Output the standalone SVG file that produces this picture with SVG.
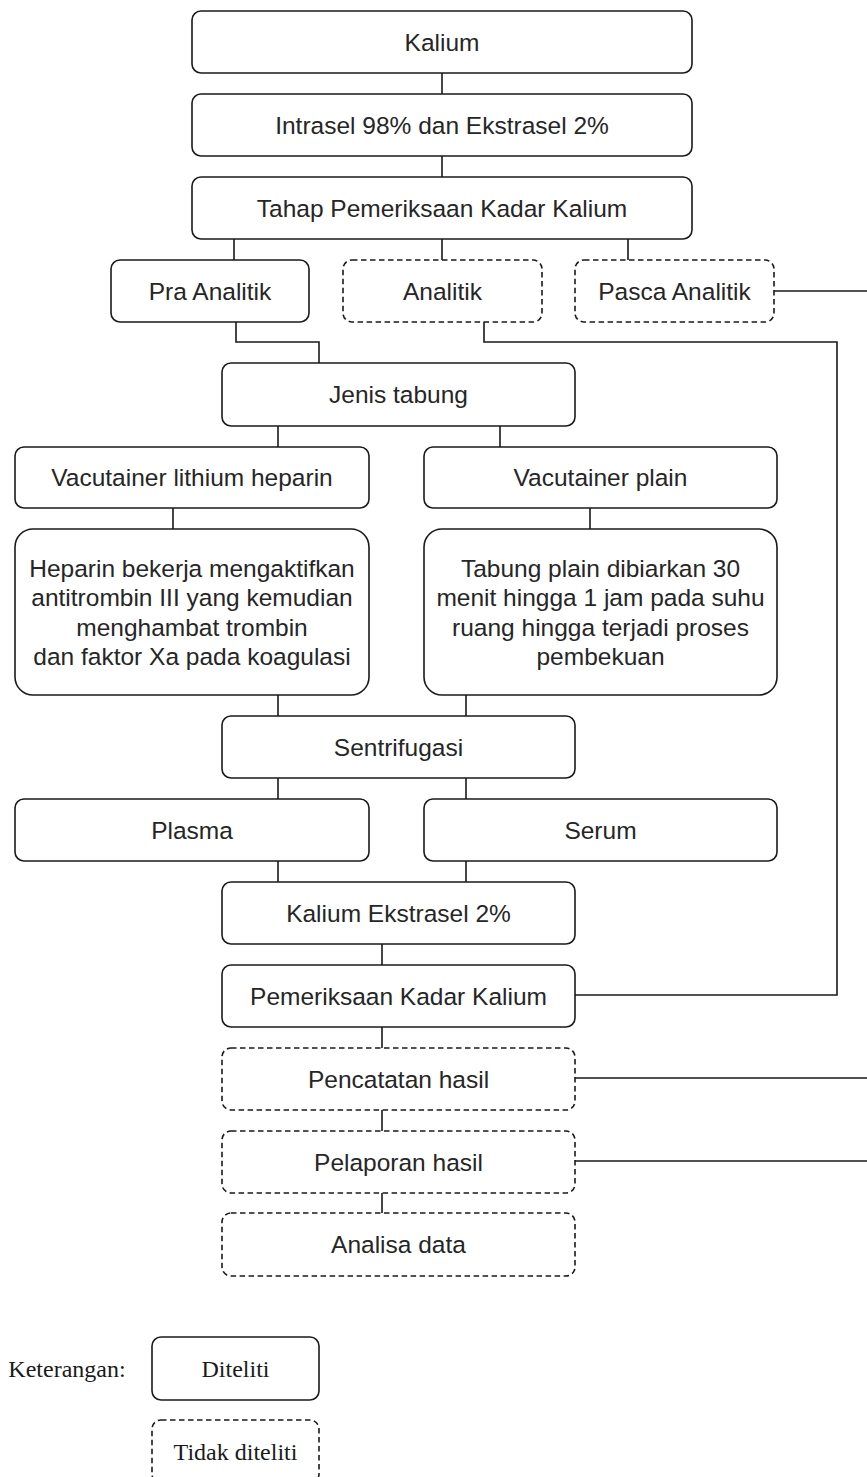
<svg xmlns="http://www.w3.org/2000/svg" width="867" height="1477" viewBox="0 0 867 1477">
<style>
.b{fill:#fff;stroke:#1a1a1a;stroke-width:1.6}
.d{fill:#fff;stroke:#1a1a1a;stroke-width:1.6;stroke-dasharray:5.5 3.5}
.t{font-family:"Liberation Sans",Arial,sans-serif;font-size:24.5px;fill:#262626;text-anchor:middle}
.s{font-family:"Liberation Serif","Times New Roman",serif;font-size:24px;fill:#1a1a1a;text-anchor:middle}
.c{fill:none;stroke:#1a1a1a;stroke-width:1.6}
</style>
<rect width="867" height="1477" fill="#fff"/>
<g id="connectors">
<path class="c" d="M442 73V94M442 156V177M234 239V260M442 239V260M628 239V260"/>
<path class="c" d="M236 322V342H319V363"/>
<path class="c" d="M484 322V342H837V995H575"/>
<path class="c" d="M774 291H867"/>
<path class="c" d="M278 426V447M500 426V447M173 508V529M590 508V529"/>
<path class="c" d="M278 695V716M466 695V716M278 778V799M466 778V799M278 861V882M466 861V882"/>
<path class="c" d="M382 944V965M382 1027V1048M382 1110V1131M382 1193V1213"/>
<path class="c" d="M575 1078H867M575 1161H867"/>
</g>
<g id="n-kalium"><rect class="b" x="192" y="11" width="500" height="62" rx="9"/><text class="t" x="442" y="50.5">Kalium</text></g>
<g id="n-intrasel"><rect class="b" x="192" y="94" width="500" height="62" rx="9"/><text class="t" x="442" y="133.5">Intrasel 98% dan Ekstrasel 2%</text></g>
<g id="n-tahap"><rect class="b" x="192" y="177" width="500" height="62" rx="9"/><text class="t" x="442" y="216.5">Tahap Pemeriksaan Kadar Kalium</text></g>
<g id="n-pra"><rect class="b" x="111" y="260" width="198" height="62" rx="9"/><text class="t" x="210" y="299.5">Pra Analitik</text></g>
<g id="n-analitik"><rect class="d" x="343" y="260" width="199" height="62" rx="9"/><text class="t" x="442.5" y="299.5">Analitik</text></g>
<g id="n-pasca"><rect class="d" x="575" y="260" width="199" height="62" rx="9"/><text class="t" x="674.5" y="299.5">Pasca Analitik</text></g>
<g id="n-jenis"><rect class="b" x="222" y="363" width="353" height="63" rx="9"/><text class="t" x="398.5" y="403">Jenis tabung</text></g>
<g id="n-vlh"><rect class="b" x="15" y="447" width="354" height="61" rx="9"/><text class="t" x="192" y="486">Vacutainer lithium heparin</text></g>
<g id="n-vp"><rect class="b" x="424" y="447" width="353" height="61" rx="9"/><text class="t" x="600.5" y="486">Vacutainer plain</text></g>
<g id="n-heparin"><rect class="b" x="15" y="529" width="354" height="166" rx="18"/>
<text class="t" x="192" y="576.5">Heparin bekerja mengaktifkan</text>
<text class="t" x="192" y="606">antitrombin III yang kemudian</text>
<text class="t" x="192" y="635.5">menghambat trombin</text>
<text class="t" x="192" y="665">dan faktor Xa pada koagulasi</text></g>
<g id="n-tabung"><rect class="b" x="424" y="529" width="353" height="166" rx="18"/>
<text class="t" x="600.5" y="576.5">Tabung plain dibiarkan 30</text>
<text class="t" x="600.5" y="606">menit hingga 1 jam pada suhu</text>
<text class="t" x="600.5" y="635.5">ruang hingga terjadi proses</text>
<text class="t" x="600.5" y="665">pembekuan</text></g>
<g id="n-sentri"><rect class="b" x="222" y="716" width="353" height="62" rx="9"/><text class="t" x="398.5" y="755.5">Sentrifugasi</text></g>
<g id="n-plasma"><rect class="b" x="15" y="799" width="354" height="62" rx="9"/><text class="t" x="192" y="838.5">Plasma</text></g>
<g id="n-serum"><rect class="b" x="424" y="799" width="353" height="62" rx="9"/><text class="t" x="600.5" y="838.5">Serum</text></g>
<g id="n-ekstrasel"><rect class="b" x="222" y="882" width="353" height="62" rx="9"/><text class="t" x="398.5" y="921.5">Kalium Ekstrasel 2%</text></g>
<g id="n-pemeriksaan"><rect class="b" x="222" y="965" width="353" height="62" rx="9"/><text class="t" x="398.5" y="1004.5">Pemeriksaan Kadar Kalium</text></g>
<g id="n-pencatatan"><rect class="d" x="222" y="1048" width="353" height="62" rx="9"/><text class="t" x="398.5" y="1087.5">Pencatatan hasil</text></g>
<g id="n-pelaporan"><rect class="d" x="222" y="1131" width="353" height="62" rx="9"/><text class="t" x="398.5" y="1170.5">Pelaporan hasil</text></g>
<g id="n-analisa"><rect class="d" x="222" y="1213" width="353" height="63" rx="9"/><text class="t" x="398.5" y="1253">Analisa data</text></g>
<g id="legend">
<text class="s" x="67" y="1377">Keterangan:</text>
<g id="n-diteliti"><rect class="b" x="152" y="1337" width="167" height="63" rx="9"/><text class="s" x="235.5" y="1377">Diteliti</text></g>
<g id="n-tidak"><rect class="d" x="152" y="1420" width="167" height="63" rx="9"/><text class="s" x="235.5" y="1460">Tidak diteliti</text></g>
</g>
</svg>
